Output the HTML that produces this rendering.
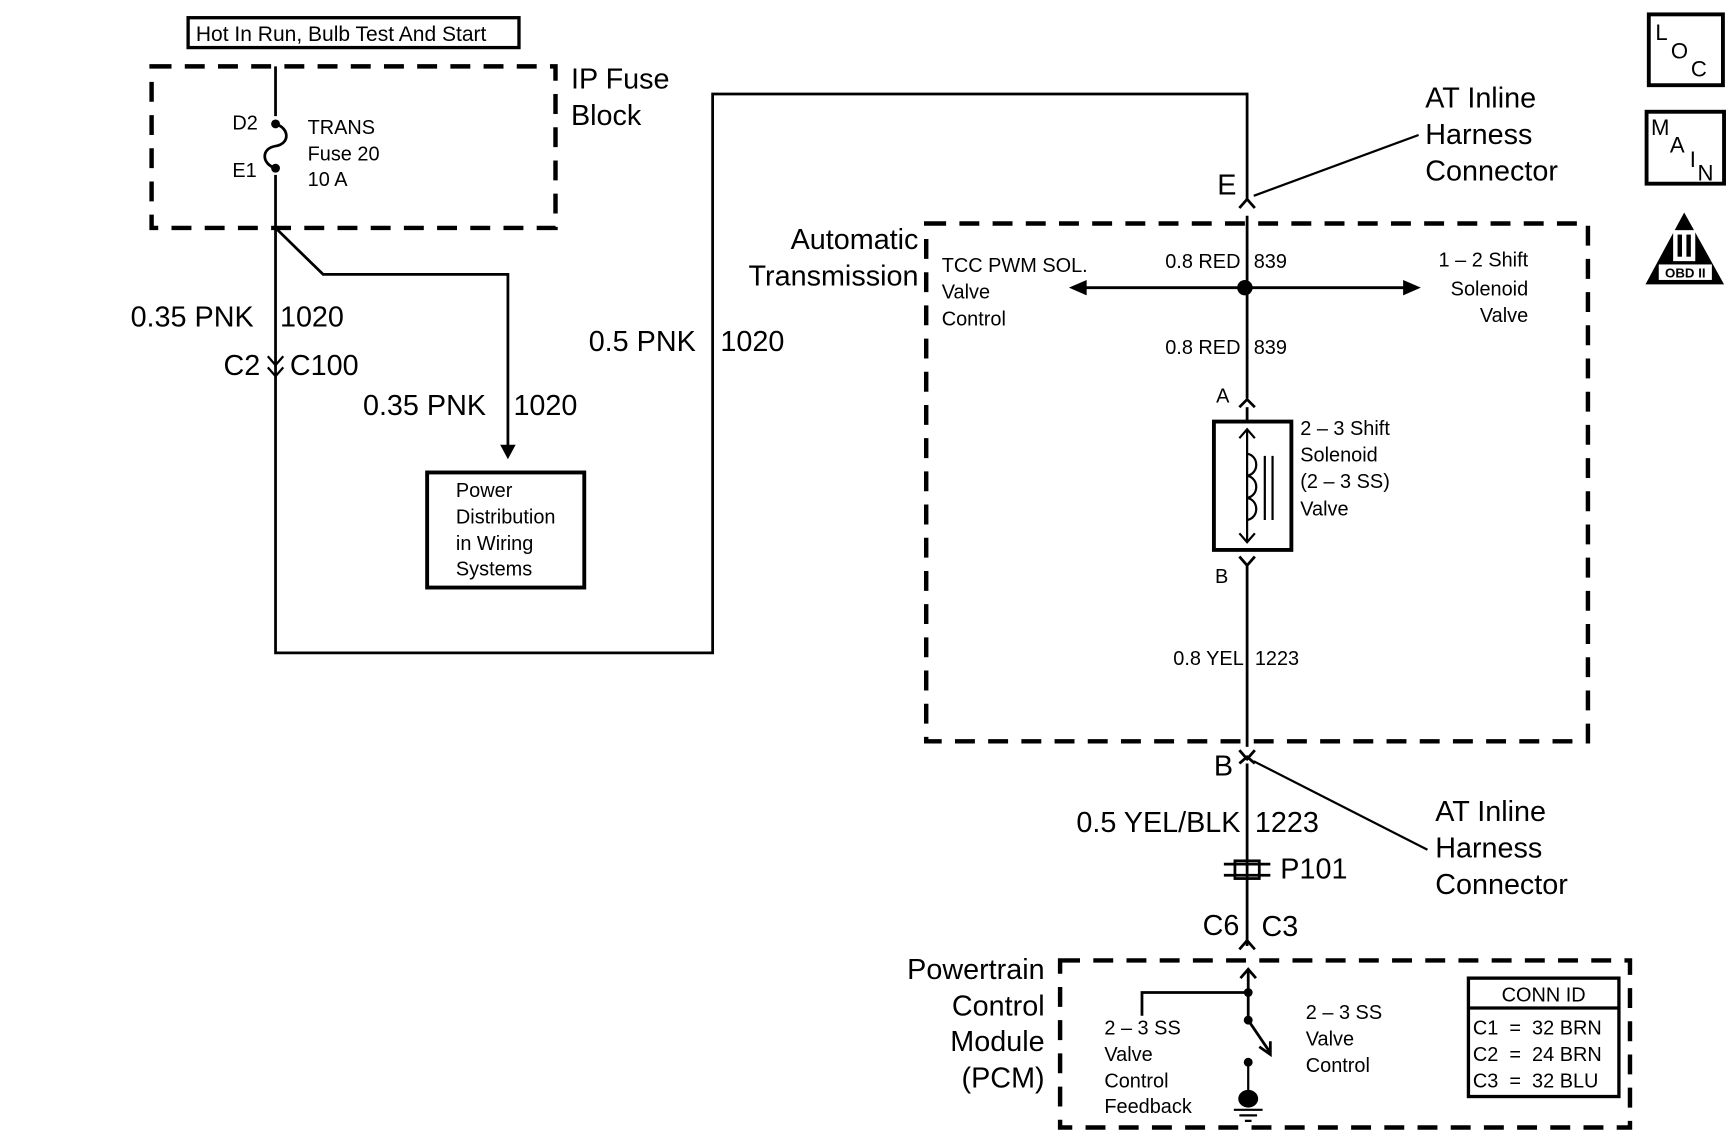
<!DOCTYPE html>
<html><head><meta charset="utf-8"><style>
html,body{margin:0;padding:0;background:#fff}
svg{display:block}
text{font-family:"Liberation Sans",Arial,sans-serif;fill:#000;white-space:pre}
.L{font-size:26px}.S{font-size:19px}.T{font-size:18px}
</style></head><body>
<svg width="1734" height="1143" viewBox="0 0 1567 1033" preserveAspectRatio="none" xmlns="http://www.w3.org/2000/svg">
<g fill="none" stroke="#000">
<rect x="137" y="60" width="365" height="146" stroke-width="4" stroke-dasharray="18,12"/>
<rect x="837" y="202" width="598" height="468" stroke-width="4" stroke-dasharray="18,12"/>
<rect x="958" y="868" width="515" height="151" stroke-width="4" stroke-dasharray="18,12"/>
<rect x="170" y="16" width="299" height="27" stroke-width="3"/>
<path d="M249 60 V105 M249 158 V590 H644 V85 H1127 V180" stroke-width="2.5"/>
<path d="M249 112 C262 116 262 130 249 132 C236 134 236 148 249 152" stroke-width="2.5"/>
<path d="M249 206 L292 248 H459 V405" stroke-width="2.5"/>
<path d="M242 322 L249 330 L256 322 M242 332 L249 340 L256 332" stroke-width="2"/>
<path d="M1120 188 L1127 180 L1134 188" stroke-width="2.5"/>
<path d="M1133 177 L1282 122" stroke-width="2"/>
<path d="M1127 195 V360 M980 260 H1270" stroke-width="2.5"/>
<path d="M1120 368 L1127 361 L1134 368" stroke-width="2.5"/>
<path d="M1127 368 V381" stroke-width="2.5"/>
<rect x="1097" y="381" width="70" height="116" stroke-width="3.5"/>
<path d="M1127 388 V490 M1120 396 L1127 388 L1134 396 M1120 482 L1127 490 L1134 482" stroke-width="2"/>
<path d="M1127 410 C1138 412 1138 428 1127 430 C1138 432 1138 448 1127 450 C1138 452 1138 468 1127 470" stroke-width="2"/>
<path d="M1143 412 V470 M1150 412 V470" stroke-width="2"/>
<path d="M1120 503 L1127 511 L1134 503 M1127 511 V675" stroke-width="2.5"/>
<path d="M1120 678 L1127 686 L1134 678 M1120 690 L1127 684 L1134 690" stroke-width="2.5"/>
<path d="M1133 688 L1290 768" stroke-width="2"/>
<path d="M1127 690 V855" stroke-width="2.5"/>
<path d="M1106 781 H1148 M1106 791 H1148" stroke-width="2.5"/>
<rect x="1116" y="778" width="22" height="16" stroke-width="2.5"/>
<path d="M1120 858 L1127 850 L1134 858" stroke-width="2.5"/>
<path d="M1128 922 V876 M1121 884 L1128 876 L1135 884" stroke-width="2.5"/>
<path d="M1032 918 V897 H1128" stroke-width="2.5"/>
<path d="M1128 922 L1147 950 M1138 946 L1148 953 L1148 941" stroke-width="2.5"/>
<path d="M1128 960 V990 M1115 1003 H1141 M1120 1008 H1136 M1125 1013 H1131" stroke-width="2"/>
<rect x="1327" y="884" width="136" height="107" stroke-width="3"/>
<path d="M1327 911 H1463" stroke-width="3"/>
<rect x="1490" y="13" width="67" height="64" stroke-width="3.5"/>
<rect x="1488" y="101" width="70" height="65" stroke-width="3.5"/>
</g>
<g fill="#000">
<circle cx="249" cy="112" r="4"/><circle cx="249" cy="152" r="4"/>
<polygon points="452,402 466,402 459,415"/>
<circle cx="1125" cy="260" r="7"/>
<polygon points="966,260 982,253 982,267"/>
<polygon points="1284,260 1268,253 1268,267"/>
<circle cx="1128" cy="897" r="4"/><circle cx="1128" cy="922" r="4"/><circle cx="1128" cy="960" r="4"/>
<ellipse cx="1128" cy="993" rx="9" ry="8"/>
<polygon points="1522,192 1487,257 1558,257"/>
</g>
<rect x="1499" y="239" width="48" height="14" fill="#fff"/>
<rect x="1512" y="208" width="20" height="28" fill="#fff"/>
<rect x="1516" y="212" width="4" height="20" fill="#000"/><rect x="1524" y="212" width="4" height="20" fill="#000"/>
<text x="1523" y="251" font-size="12" text-anchor="middle" font-weight="bold">OBD II</text>
<text x="1496" y="36" font-size="20">L</text><text x="1510" y="53" font-size="20">O</text><text x="1528" y="69" font-size="20">C</text>
<text x="1492" y="122" font-size="20">M</text><text x="1509" y="138" font-size="20">A</text><text x="1527" y="151" font-size="20">I</text><text x="1534" y="163" font-size="20">N</text>

<text x="177" y="37" class="S">Hot In Run, Bulb Test And Start</text>
<text x="210" y="117" class="T">D2</text><text x="210" y="160" class="T">E1</text>
<text x="278" y="121" class="T">TRANS</text><text x="278" y="145" class="T">Fuse 20</text><text x="278" y="168" class="T">10 A</text>
<text x="516" y="80" class="L">IP Fuse</text><text x="516" y="113" class="L">Block</text>
<text x="118" y="295" class="L">0.35 PNK</text><text x="253" y="295" class="L">1020</text>
<text x="202" y="339" class="L">C2</text><text x="262" y="339" class="L">C100</text>
<text x="328" y="375" class="L">0.35 PNK</text><text x="464" y="375" class="L">1020</text>
<text x="412" y="449" class="T">Power</text><text x="412" y="473" class="T">Distribution</text><text x="412" y="497" class="T">in Wiring</text><text x="412" y="520" class="T">Systems</text>
<rect x="386" y="427" width="142" height="104" fill="none" stroke="#000" stroke-width="3.5"/>
<text x="532" y="317" class="L">0.5 PNK</text><text x="651" y="317" class="L">1020</text>
<text x="1100" y="176" class="L">E</text>
<text x="1288" y="97" class="L">AT Inline</text><text x="1288" y="130" class="L">Harness</text><text x="1288" y="163" class="L">Connector</text>
<text x="830" y="225" class="L" text-anchor="end">Automatic</text><text x="830" y="258" class="L" text-anchor="end">Transmission</text>
<text x="851" y="246" class="T">TCC PWM SOL.</text><text x="851" y="270" class="T">Valve</text><text x="851" y="294" class="T">Control</text>
<text x="1121" y="242" class="T" text-anchor="end">0.8 RED</text><text x="1133" y="242" class="T">839</text>
<text x="1121" y="320" class="T" text-anchor="end">0.8 RED</text><text x="1133" y="320" class="T">839</text>
<text x="1381" y="241" class="T" text-anchor="end">1 – 2 Shift</text><text x="1381" y="267" class="T" text-anchor="end">Solenoid</text><text x="1381" y="291" class="T" text-anchor="end">Valve</text>
<text x="1099" y="364" class="T">A</text>
<text x="1175" y="393" class="T">2 – 3 Shift</text><text x="1175" y="417" class="T">Solenoid</text><text x="1175" y="441" class="T">(2 – 3 SS)</text><text x="1175" y="466" class="T">Valve</text>
<text x="1098" y="527" class="T">B</text>
<text x="1124" y="601" class="T" text-anchor="end">0.8 YEL</text><text x="1134" y="601" class="T">1223</text>
<text x="1097" y="701" class="L">B</text>
<text x="1297" y="742" class="L">AT Inline</text><text x="1297" y="775" class="L">Harness</text><text x="1297" y="808" class="L">Connector</text>
<text x="1121" y="752" class="L" text-anchor="end">0.5 YEL/BLK</text><text x="1134" y="752" class="L">1223</text>
<text x="1157" y="794" class="L">P101</text>
<text x="1120" y="845" class="L" text-anchor="end">C6</text><text x="1140" y="846" class="L">C3</text>
<text x="944" y="885" class="L" text-anchor="end">Powertrain</text><text x="944" y="918" class="L" text-anchor="end">Control</text><text x="944" y="950" class="L" text-anchor="end">Module</text><text x="944" y="983" class="L" text-anchor="end">(PCM)</text>
<text x="998" y="935" class="T">2 – 3 SS</text><text x="998" y="959" class="T">Valve</text><text x="998" y="983" class="T">Control</text><text x="998" y="1006" class="T">Feedback</text>
<text x="1180" y="921" class="T">2 – 3 SS</text><text x="1180" y="945" class="T">Valve</text><text x="1180" y="969" class="T">Control</text>
<text x="1395" y="905" class="T" text-anchor="middle">CONN ID</text>
<text x="1331" y="935" class="T">C1  =  32 BRN</text><text x="1331" y="959" class="T">C2  =  24 BRN</text><text x="1331" y="983" class="T">C3  =  32 BLU</text>
</svg>
</body></html>
